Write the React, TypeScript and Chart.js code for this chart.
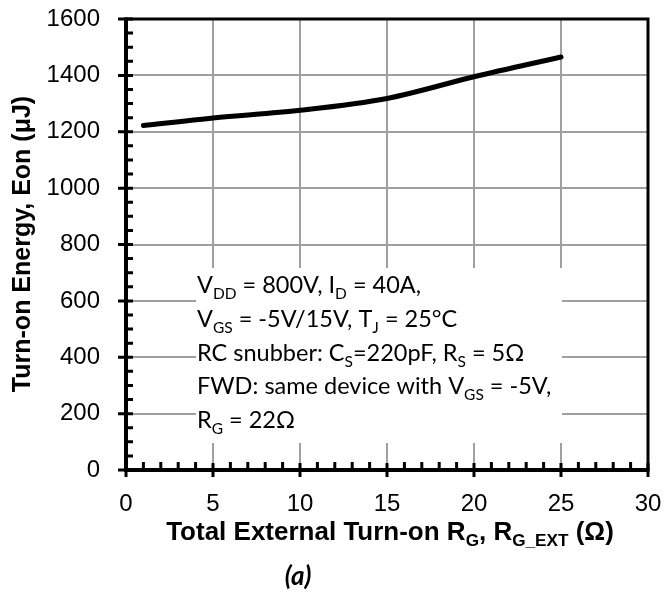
import React, { useEffect, useRef } from "react";
import { Chart, registerables } from "chart.js";

Chart.register(...registerables);

const RG_OHM = [1, 5, 10, 15, 20, 25];
const EON_UJ = [1222, 1249, 1276, 1318, 1395, 1465];

const X_TICKS = [0, 5, 10, 15, 20, 25, 30];
const Y_TICKS = [0, 200, 400, 600, 800, 1000, 1200, 1400, 1600];

type Seg = [string, boolean];
const NOTE_LINES: Seg[][] = [
  [["V", false], ["DD", true], [" = 800V, I", false], ["D", true], [" = 40A,", false]],
  [["V", false], ["GS", true], [" = -5V/15V, T", false], ["J", true], [" = 25°C", false]],
  [["RC snubber: C", false], ["S", true], ["=220pF, R", false], ["S", true], [" = 5Ω", false]],
  [["FWD: same device with V", false], ["GS", true], [" = -5V,", false]],
  [["R", false], ["G", true], [" = 22Ω", false]],
];
const X_TITLE: Seg[] = [
  ["Total External Turn-on R", false],
  ["G", true],
  [", R", false],
  ["G_EXT", true],
  [" (Ω)", false],
];
const Y_TITLE = "Turn-on Energy, Eon (μJ)";
const CAPTION = "(a)";

const ARIAL = "'Liberation Sans', Arial, sans-serif";
const NOTE_FONT = "Lato, 'Open Sans', sans-serif";

function richWidth(ctx: CanvasRenderingContext2D, segs: Seg[], size: number, family: string, style: string) {
  let w = 0;
  for (const [t, sub] of segs) {
    ctx.font = `${style} ${sub ? size * 0.66 : size}px ${family}`;
    w += ctx.measureText(t).width;
  }
  return w;
}

function drawRich(ctx: CanvasRenderingContext2D, x: number, y: number, segs: Seg[], size: number, family: string, style: string) {
  let cx = x;
  ctx.textAlign = "left";
  ctx.textBaseline = "alphabetic";
  for (const [t, sub] of segs) {
    const s = sub ? size * 0.66 : size;
    ctx.font = `${style} ${s}px ${family}`;
    ctx.fillText(t, cx, y + (sub ? size * 0.24 : 0));
    cx += ctx.measureText(t).width;
  }
}

const decorPlugin = {
  id: "decor",
  beforeDatasetsDraw(chart: any) {
    const ctx: CanvasRenderingContext2D = chart.ctx;
    ctx.save();
    ctx.fillStyle = "#ffffff";
    ctx.fillRect(196, 268, 366, 175);
    ctx.fillStyle = "#000000";
    const base = [293, 327, 361, 394, 428];
    NOTE_LINES.forEach((line, i) => drawRich(ctx, 197, base[i], line, 23.5, NOTE_FONT, "normal"));
    ctx.restore();
  },
  afterDraw(chart: any) {
    const ctx: CanvasRenderingContext2D = chart.ctx;
    const xs = chart.scales.x;
    const ys = chart.scales.y;
    const a = chart.chartArea;
    ctx.save();
    ctx.strokeStyle = "#000";
    ctx.lineCap = "butt";
    // top & right borders
    ctx.lineWidth = 3;
    ctx.beginPath();
    ctx.moveTo(a.left, a.top);
    ctx.lineTo(a.right, a.top);
    ctx.lineTo(a.right, a.bottom);
    ctx.stroke();
    // axes
    ctx.lineWidth = 4;
    ctx.beginPath();
    ctx.moveTo(a.left, a.top - 1.5);
    ctx.lineTo(a.left, a.bottom + 2);
    ctx.moveTo(a.left - 2, a.bottom);
    ctx.lineTo(a.right + 1.5, a.bottom);
    ctx.stroke();
    // ticks
    ctx.lineWidth = 3;
    ctx.beginPath();
    for (let v = 0; v <= 1600; v += 50) {
      const y = ys.getPixelForValue(v);
      if (v % 200 === 0) {
        ctx.moveTo(a.left - 8, y);
        ctx.lineTo(a.left + 7, y);
      } else {
        ctx.moveTo(a.left, y);
        ctx.lineTo(a.left + 7, y);
      }
    }
    for (let v = 0; v <= 30; v += 1) {
      const x = xs.getPixelForValue(v);
      if (v % 5 === 0) {
        ctx.moveTo(x, a.bottom - 7);
        ctx.lineTo(x, a.bottom + 7);
      } else {
        ctx.moveTo(x, a.bottom - 8);
        ctx.lineTo(x, a.bottom);
      }
    }
    ctx.stroke();
    // titles
    ctx.fillStyle = "#000";
    const xw = richWidth(ctx, X_TITLE, 26, ARIAL, "bold");
    drawRich(ctx, 390 - xw / 2, 540, X_TITLE, 26, ARIAL, "bold");
    ctx.save();
    ctx.translate(30, 244);
    ctx.rotate(-Math.PI / 2);
    ctx.font = `bold 25px ${ARIAL}`;
    ctx.textAlign = "center";
    ctx.textBaseline = "alphabetic";
    ctx.fillText(Y_TITLE, 0, 0);
    ctx.restore();
    ctx.font = `italic bold 26px ${NOTE_FONT}`;
    ctx.textAlign = "center";
    ctx.textBaseline = "alphabetic";
    ctx.fillText(CAPTION, 298, 585);
    ctx.restore();
  },
};

export default function App() {
  const ref = useRef<HTMLCanvasElement | null>(null);
  useEffect(() => {
    if (!ref.current) return;
    const chart = new Chart(ref.current, {
      type: "line",
      data: {
        datasets: [
          {
            data: RG_OHM.map((x, i) => ({ x, y: EON_UJ[i] })),
            borderColor: "#000",
            borderWidth: 5,
            pointRadius: 0,
            cubicInterpolationMode: "monotone",
            borderCapStyle: "round",
            fill: false,
          },
        ],
      },
      options: {
        animation: false,
        responsive: true,
        maintainAspectRatio: false,
        layout: { padding: { top: 19, right: 18, left: 0, bottom: 0 } },
        plugins: { legend: { display: false }, tooltip: { enabled: false }, title: { display: false } },
        scales: {
          x: {
            type: "linear",
            min: 0,
            max: 30,
            afterBuildTicks: (s: any) => {
              s.ticks = X_TICKS.map((v) => ({ value: v }));
            },
            afterFit: (s: any) => {
              s.height = 127;
              s.paddingLeft = 0;
              s.paddingRight = 0;
            },
            ticks: { color: "#000", font: { family: ARIAL, size: 24 }, padding: 20, maxRotation: 0, callback: (v: any) => String(v) },
            grid: { color: "#a0a0a0", lineWidth: 2, drawTicks: false },
            border: { display: false },
          },
          y: {
            type: "linear",
            min: 0,
            max: 1600,
            afterBuildTicks: (s: any) => {
              s.ticks = Y_TICKS.map((v) => ({ value: v }));
            },
            afterFit: (s: any) => {
              s.width = 126;
              s.paddingTop = 0;
              s.paddingBottom = 0;
            },
            ticks: { color: "#000", font: { family: ARIAL, size: 24 }, padding: 26, callback: (v: any) => String(v) },
            grid: { color: "#a0a0a0", lineWidth: 2, drawTicks: false },
            border: { display: false },
          },
        },
      },
      plugins: [decorPlugin],
    } as any);
    return () => chart.destroy();
  }, []);
  return (
    <div style={{ position: "fixed", left: 0, top: 0, width: 666, height: 597, background: "#fff" }}>
      <canvas ref={ref} />
    </div>
  );
}
